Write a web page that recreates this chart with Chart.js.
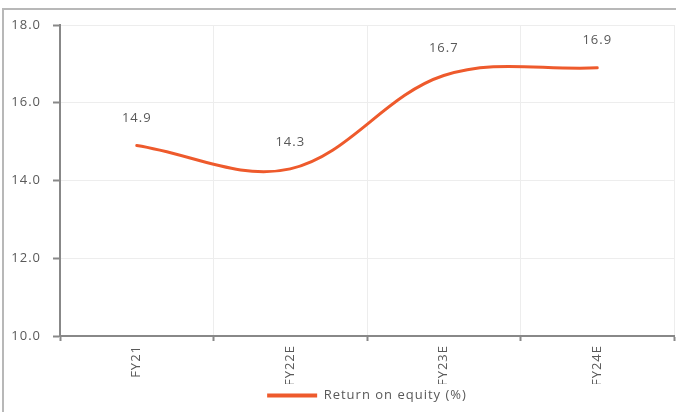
<!DOCTYPE html>
<html>
<head>
<meta charset="utf-8">
<script src="https://cdn.jsdelivr.net/npm/chart.js@4/dist/chart.umd.min.js"></script>
<style>
  html, body { margin: 0; padding: 0; background: #fff; overflow: hidden; }
  #wrap { position: relative; width: 676px; height: 412px; }
  #frame { position: absolute; left: 2px; top: 8px; width: 700px; height: 420px;
           border-left: 2px solid #b8b8b8; border-top: 2px solid #b8b8b8; box-sizing: border-box; }
  canvas { position: absolute; left: 0; top: 0; }
</style>
</head>
<body>
<div id="wrap">
  <div id="frame"></div>
  <canvas id="c" width="676" height="412"></canvas>
</div>
<script>
const categories = ["FY21", "FY22E", "FY23E", "FY24E"];
const roeValues = [14.9, 14.3, 16.7, 16.9];
const seriesName = "Return on equity (%)";
const yTicks = [10, 12, 14, 16, 18];

const FONT = "'Open Sans', Lato, sans-serif";
const TEXT = "#595959";
const LINE = "#EE5A2C";

const spacing = {
  id: 'spacing',
  beforeInit(chart) { chart.ctx.letterSpacing = '1px'; },
  beforeUpdate(chart) { chart.ctx.letterSpacing = '1px'; },
  beforeDraw(chart) { chart.ctx.letterSpacing = '1px'; }
};

const dataLabels = {
  id: 'dataLabels',
  afterDatasetsDraw(chart) {
    const ctx = chart.ctx;
    const meta = chart.getDatasetMeta(0);
    ctx.save();
    ctx.font = "13px " + FONT;
    ctx.fillStyle = TEXT;
    ctx.textAlign = 'center';
    ctx.textBaseline = 'middle';
    meta.data.forEach((pt, i) => {
      ctx.fillText(roeValues[i].toFixed(1), pt.x, pt.y - 27);
    });
    ctx.restore();
  }
};

const legendShift = {
  id: 'legendShift',
  afterLayout(chart) {
    const lg = chart.legend;
    if (!lg) return;
    lg.left += 30; lg.right += 30;
    const h = lg.bottom - lg.top;
    lg.top = 384; lg.bottom = 384 + h;
  }
};

new Chart(document.getElementById('c'), {
  type: 'line',
  data: {
    labels: categories,
    datasets: [{
      label: seriesName,
      data: roeValues,
      borderColor: LINE,
      backgroundColor: LINE,
      borderWidth: 3,
      borderCapStyle: 'round',
      tension: 0.36,
      pointRadius: 0,
      fill: false
    }]
  },
  options: {
    responsive: false,
    animation: false,
    layout: { padding: { top: 25, right: 2, left: 0, bottom: 0 } },
    plugins: {
      tooltip: { enabled: false },
      legend: {
        position: 'bottom',
        labels: {
          font: { family: FONT, size: 13 },
          color: TEXT,
          boxWidth: 50,
          boxHeight: 4,
          padding: 5,
          generateLabels(chart) {
            return [{ text: seriesName, fillStyle: LINE, strokeStyle: LINE, lineWidth: 0, datasetIndex: 0, fontColor: TEXT }];
          }
        }
      }
    },
    scales: {
      x: {
        offset: true,
        grid: { offset: true, color: '#ededed', lineWidth: 1, tickLength: 5, tickColor: '#888', tickWidth: 2 },
        border: { color: '#888', width: 2 },
        ticks: { font: { family: FONT, size: 13 }, color: TEXT, minRotation: 90, maxRotation: 90, padding: 4 },
        afterFit(s) { s.height = 48; }
      },
      y: {
        min: 10, max: 18,
        afterBuildTicks(s) { s.ticks = yTicks.map(v => ({ value: v })); },
        grid: { color: '#ededed', lineWidth: 1, tickLength: 7, tickColor: '#888', tickWidth: 2 },
        border: { color: '#888', width: 2 },
        ticks: { font: { family: FONT, size: 13 }, color: TEXT, padding: 12, callback: v => Number(v).toFixed(1) },
        afterFit(s) { s.width = 60; }
      }
    }
  },
  plugins: [spacing, dataLabels, legendShift]
});
</script>
</body>
</html>
